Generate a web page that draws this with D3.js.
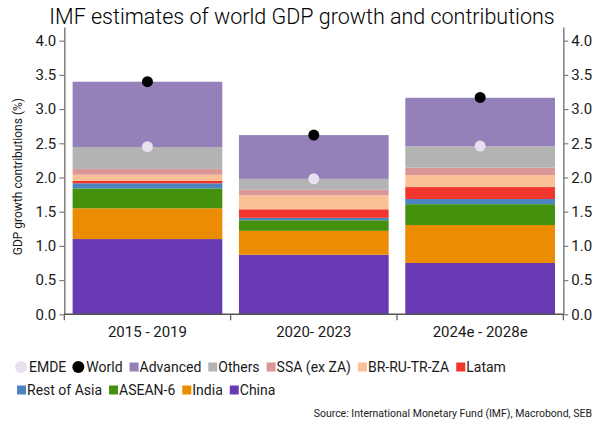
<!DOCTYPE html>
<html>
<head>
<meta charset="utf-8">
<script src="https://cdn.jsdelivr.net/npm/d3@7"></script>
<style>
  html, body { margin: 0; padding: 0; background: #fff; }
  svg { display: block; font-family: Roboto, "Noto Sans", sans-serif; }
</style>
</head>
<body>
<svg id="chart" width="602" height="425"></svg>
<script>
// Periods on the x axis
const periods = ["2015 - 2019", "2020- 2023", "2024e - 2028e"];

// Contributions to world GDP growth, percentage points (stacked bottom to top)
const china      = [1.10, 0.87, 0.75];
const india      = [0.45, 0.35, 0.555];
const asean6     = [0.29, 0.155, 0.305];
const restOfAsia = [0.075, 0.035, 0.075];
const latam      = [0.035, 0.125, 0.175];
const brRuTrZa   = [0.09, 0.205, 0.175];
const ssaExZa    = [0.085, 0.08, 0.11];
const others     = [0.32, 0.16, 0.31];
const advanced   = [0.955, 0.64, 0.71];

// Aggregate growth markers
const world = [3.40, 2.62, 3.17];
const emde  = [2.45, 1.98, 2.46];

// Axis ticks
const yTicks = [0, 0.5, 1.0, 1.5, 2.0, 2.5, 3.0, 3.5, 4.0];

const seriesKeys = ["China", "India", "ASEAN-6", "Rest of Asia", "Latam",
                    "BR-RU-TR-ZA", "SSA (ex ZA)", "Others", "Advanced"];
const seriesValues = [china, india, asean6, restOfAsia, latam,
                      brRuTrZa, ssaExZa, others, advanced];
const colors = {
  "China": "#673ab3",
  "India": "#ec8c00",
  "ASEAN-6": "#43910d",
  "Rest of Asia": "#4a84c1",
  "Latam": "#f2352c",
  "BR-RU-TR-ZA": "#f9c195",
  "SSA (ex ZA)": "#db9797",
  "Others": "#b3b3b3",
  "Advanced": "#9581ba"
};
const emdeColor = "#e6e0ef";
const worldColor = "#000000";

const rows = periods.map((p, i) => {
  const r = { period: p };
  seriesKeys.forEach((k, j) => { r[k] = seriesValues[j][i]; });
  return r;
});

const svg = d3.select("#chart");
const plotLeft = 64.3, plotRight = 563.3, plotTop = 27, plotBottom = 314.3;

const x = d3.scaleBand().domain(periods).range([plotLeft, plotRight])
  .paddingInner(0.1).paddingOuter(0.05);
const y = d3.scaleLinear().domain([0, 4.2]).range([plotBottom, plotTop]);

const axisColor = "#7f7f7f";
const textColor = "#1a1a1a";

// Title
svg.append("text")
  .attr("x", 302).attr("y", 24)
  .attr("text-anchor", "middle")
  .attr("font-size", 21.5)
  .attr("font-weight", 300)
  .attr("fill", "#000")
  .text("IMF estimates of world GDP growth and contributions");

// Stacked bars
const stacked = d3.stack().keys(seriesKeys)(rows);
svg.append("g").selectAll("g")
  .data(stacked)
  .join("g")
  .attr("fill", d => colors[d.key])
  .selectAll("rect")
  .data(d => d)
  .join("rect")
  .attr("x", d => x(d.data.period))
  .attr("width", x.bandwidth())
  .attr("y", d => y(d[1]))
  .attr("height", d => y(d[0]) - y(d[1]));

// Markers
const cx = p => x(p) + x.bandwidth() / 2;
svg.append("g").selectAll("circle")
  .data(periods)
  .join("circle")
  .attr("cx", cx)
  .attr("cy", (p, i) => y(emde[i]))
  .attr("r", 5.5)
  .attr("fill", emdeColor);
svg.append("g").selectAll("circle")
  .data(periods)
  .join("circle")
  .attr("cx", cx)
  .attr("cy", (p, i) => y(world[i]))
  .attr("r", 5.5)
  .attr("fill", worldColor);

// Y axes (left and right)
function styleAxis(g) {
  g.select(".domain").attr("stroke", axisColor).attr("stroke-width", 1.5);
  g.selectAll(".tick line").attr("stroke", axisColor).attr("stroke-width", 1.2);
  g.selectAll(".tick text").attr("fill", textColor)
    .attr("font-size", 15).attr("font-family", "Roboto, sans-serif");
}
const fmt = d3.format(".1f");
svg.append("g")
  .attr("transform", `translate(${plotLeft},0)`)
  .call(d3.axisLeft(y).tickValues(yTicks).tickFormat(fmt).tickSize(5).tickSizeOuter(0).tickPadding(3))
  .call(styleAxis);
svg.append("g")
  .attr("transform", `translate(${plotRight},0)`)
  .call(d3.axisRight(y).tickValues(yTicks).tickFormat(fmt).tickSize(5).tickSizeOuter(0).tickPadding(3))
  .call(styleAxis);

// X axis: labels centred, ticks at band boundaries
const xAxis = svg.append("g").attr("transform", `translate(0,${plotBottom})`);
xAxis.append("line")
  .attr("x1", plotLeft).attr("x2", plotRight)
  .attr("stroke", "#555").attr("stroke-width", 1.5);
const gap = x.step() * x.paddingInner() / 2;
const bounds = periods.map(p => x(p) - gap).concat([x(periods[periods.length - 1]) + x.bandwidth() + gap]);
xAxis.selectAll("line.tick")
  .data(bounds)
  .join("line")
  .attr("class", "tick")
  .attr("x1", d => d).attr("x2", d => d)
  .attr("y1", 0).attr("y2", 6)
  .attr("stroke", "#555").attr("stroke-width", 1.2);
xAxis.selectAll("text")
  .data(periods)
  .join("text")
  .attr("x", cx)
  .attr("y", 23)
  .attr("text-anchor", "middle")
  .attr("font-size", 15)
  .attr("fill", textColor)
  .text(d => d);

// Y axis title
svg.append("text")
  .attr("transform", `translate(22,${(plotTop + plotBottom) / 2 + 6}) rotate(-90)`)
  .attr("text-anchor", "middle")
  .attr("font-size", 12)
  .attr("fill", textColor)
  .text("GDP growth contributions (%)");

// Legend
const legendRows = [
  [{ name: "EMDE", type: "circle", color: emdeColor },
   { name: "World", type: "circle", color: worldColor },
   { name: "Advanced", type: "rect" },
   { name: "Others", type: "rect" },
   { name: "SSA (ex ZA)", type: "rect" },
   { name: "BR-RU-TR-ZA", type: "rect" },
   { name: "Latam", type: "rect" }],
  [{ name: "Rest of Asia", type: "rect" },
   { name: "ASEAN-6", type: "rect" },
   { name: "India", type: "rect" },
   { name: "China", type: "rect" }]
];
const legendY = [367, 390];
const legendX0 = [15, 16];
legendRows.forEach((items, ri) => {
  let xPos = legendX0[ri];
  const g = svg.append("g");
  items.forEach(it => {
    const col = it.color || colors[it.name];
    let symW;
    if (it.type === "circle") {
      g.append("circle").attr("cx", xPos + 6).attr("cy", legendY[ri]).attr("r", 6).attr("fill", col);
      symW = 14;
    } else {
      g.append("rect").attr("x", xPos + 1).attr("y", legendY[ri] - 4.5).attr("width", 9).attr("height", 9).attr("fill", col);
      symW = 11;
    }
    const t = g.append("text")
      .attr("x", xPos + symW)
      .attr("y", legendY[ri] + 5)
      .attr("font-size", 14)
      .attr("fill", textColor)
      .text(it.name);
    xPos += symW + t.node().getComputedTextLength() + 6;
  });
});

// Source note
svg.append("text")
  .attr("x", 592).attr("y", 417)
  .attr("text-anchor", "end")
  .attr("font-size", 10.5)
  .attr("fill", textColor)
  .text("Source: International Monetary Fund (IMF), Macrobond, SEB");
</script>
</body>
</html>
